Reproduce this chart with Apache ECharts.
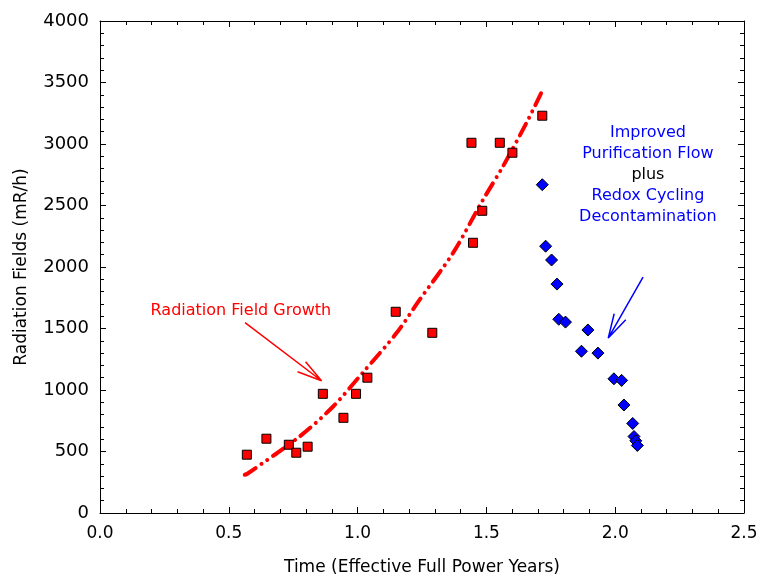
<!DOCTYPE html>
<html><head><meta charset="utf-8">
<script src="https://cdn.jsdelivr.net/npm/echarts@6/dist/echarts.min.js"></script>
<style>html,body{margin:0;padding:0;background:#fff}#c{width:759px;height:578px}</style>
</head><body><div id="c"></div>
<script>
const redPoints = [
  [0.570,474],[0.646,604],[0.733,555],[0.762,490],[0.806,539],[0.865,969],
  [0.945,774],[0.994,969],[1.038,1100],[1.148,1636],[1.290,1465],[1.442,3010],
  [1.448,2197],[1.484,2457],[1.552,3010],[1.601,2929],[1.717,3230]
];
const bluePoints = [
  [1.717,2669],[1.730,2169],[1.753,2057],[1.774,1861],[1.781,1575],[1.807,1552],
  [1.894,1488],[1.869,1315],[1.933,1300],[1.995,1091],[2.025,1078],[2.034,878],
  [2.068,728],[2.073,622],[2.080,587],[2.086,549]
];
const growthCurve = [
  [0.562,311],[0.572,319],[0.775,622],[0.905,866],[1.021,1143],[1.151,1463],
  [1.241,1734],[1.370,2113],[1.487,2547],[1.564,2817],[1.655,3170],[1.719,3441]
];
const redArrow = [[0.563,1547],[0.860,1075],[0.798,1230],[0.860,1075],[0.767,1148]];
const blueArrow = [[2.108,1918],[1.973,1422],[1.996,1620],[1.973,1422],[2.041,1571]];
const xTicks = ['0.0','0.5','1.0','1.5','2.0','2.5'];
const xTitle = 'Time (Effective Full Power Years)';
const yTitle = 'Radiation Fields (mR/h)';
const redLabel = 'Radiation Field Growth';
const blueLabelLines = [['Improved','#0000ff'],['Purification Flow','#0000ff'],['plus','#000000'],['Redox Cycling','#0000ff'],['Decontamination','#0000ff']];

const FONT = '"DejaVu Sans", Arial, sans-serif';
const chart = echarts.init(document.getElementById('c'), null, {renderer:'canvas'});
const axCommon = {
  axisLine:{show:true,onZero:false,lineStyle:{color:'#000',width:1}},
  axisTick:{show:true,inside:true,length:6,lineStyle:{color:'#000'}},
  minorTick:{show:true,splitNumber:5,length:4,lineStyle:{color:'#000'}},
  splitLine:{show:false}
};
chart.setOption({
  animation:false,
  grid:{left:100,right:15,top:21,bottom:65,containLabel:false,outerBoundsMode:'none'},
  xAxis:[
    Object.assign({type:'value',min:0,max:2.5,interval:0.5,position:'bottom',
      name:xTitle,nameLocation:'middle',nameGap:46,
      nameTextStyle:{fontFamily:FONT,fontSize:17,color:'#000'},
      axisLabel:{fontFamily:FONT,fontSize:17,color:'#000',margin:12,
        formatter:(v)=>xTicks[Math.round(v/0.5)]}}, axCommon),
    Object.assign({type:'value',min:0,max:2.5,interval:0.5,position:'top',
      axisLabel:{show:false}}, axCommon)
  ],
  yAxis:[
    Object.assign({type:'value',min:0,max:4000,interval:500,position:'left',
      name:yTitle,nameLocation:'middle',nameGap:70,
      nameTextStyle:{fontFamily:FONT,fontSize:17,color:'#000'},
      axisLabel:{fontFamily:FONT,fontSize:18,color:'#000',margin:11,
        formatter:(v)=>String(v)}}, axCommon),
    Object.assign({type:'value',min:0,max:4000,interval:500,position:'right',
      axisLabel:{show:false}}, axCommon)
  ],
  series:[
    {type:'line',data:growthCurve,smooth:0.3,symbol:'none',
      lineStyle:{color:'#ff0000',width:4,cap:'round',type:[13,7,0.01,7,0.01,7]},z:2},
    {type:'scatter',data:redPoints,symbol:'rect',symbolSize:9,
      itemStyle:{color:'#ff0000',borderColor:'#000',borderWidth:1,opacity:1},z:3},
    {type:'scatter',data:bluePoints,symbol:'diamond',symbolSize:12,
      itemStyle:{color:'#0000ff',borderColor:'#000',borderWidth:1,opacity:1},z:3},
    {type:'line',data:redArrow,symbol:'none',lineStyle:{color:'#ff0000',width:1.5},z:2},
    {type:'line',data:blueArrow,symbol:'none',lineStyle:{color:'#0000ff',width:1.5},z:2}
  ]
});
const p1 = chart.convertToPixel({gridIndex:0},[0.547,1640]);
const p2 = chart.convertToPixel({gridIndex:0},[2.127,3090]);
const texts = blueLabelLines.map((l,i)=>({type:'text',
  style:{text:l[0],fill:l[1],font:'16px '+FONT,align:'center',verticalAlign:'middle',x:p2[0],y:p2[1]+i*21}}));
chart.setOption({graphic:[{type:'text',style:{text:redLabel,fill:'#ff0000',font:'16px '+FONT,align:'center',verticalAlign:'middle',x:p1[0],y:p1[1]}}].concat(texts)});
</script></body></html>
